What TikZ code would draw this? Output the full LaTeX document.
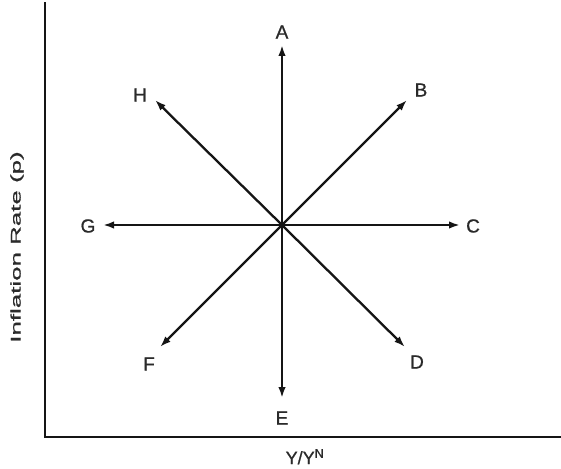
\documentclass[tikz,border=0pt]{standalone}
\usepackage{fontspec}
\setmainfont{Liberation Sans}[BoldFont=Liberation Sans,BoldFeatures={FakeBold=0.8}]
\usetikzlibrary{arrows.meta}
\definecolor{ink}{HTML}{151515}
\definecolor{txt}{HTML}{2A2A2A}
\begin{document}
\begin{tikzpicture}[x=1pt,y=-1pt,
  axis/.style={line width=2.8pt,draw=ink,line cap=rect},
  arr/.style={line width=2.3pt,draw=ink,-{Latex[length=11pt,width=7.5pt]}},
  lbl/.style={text=txt,font=\fontsize{19}{22}\selectfont\bfseries,inner sep=0pt}]
\useasboundingbox (0,0) rectangle (561,468);
% axes
\coordinate (top) at (45,3);
\coordinate (orig) at (45,437);
\coordinate (right) at (561,437);
\draw[axis] (top) -- (orig) -- (right);
% axis labels
\node[rotate=90,text=txt,inner sep=0pt] (ylab) at (17,247) {\scalebox{1.85}[1]{\fontsize{14}{16}\selectfont\bfseries Inflation Rate (p)}};
\node[text=txt,inner sep=0pt,anchor=north,font=\fontsize{18}{20}\selectfont\bfseries] (xlab) at (305,449) {Y/Y\textsuperscript{N}};
% centre and tips
\coordinate (O) at (282,225);
\coordinate (tA) at (282,45);
\coordinate (tB) at (407,100);
\coordinate (tC) at (460,225);
\coordinate (tD) at (405,347);
\coordinate (tE) at (282,398);
\coordinate (tF) at (160,347);
\coordinate (tG) at (103,225);
\coordinate (tH) at (155,100);
\foreach \t in {A,B,C,D,E,F,G,H} \draw[arr] (O) -- (t\t);
% labels
\node[lbl] (A) at (282,32) {A};
\node[lbl] (B) at (421,90) {B};
\node[lbl] (C) at (473,226) {C};
\node[lbl] (D) at (417,362) {D};
\node[lbl] (E) at (282,418) {E};
\node[lbl] (F) at (149,364) {F};
\node[lbl] (G) at (88,226) {G};
\node[lbl] (H) at (140,95) {H};
\end{tikzpicture}
\end{document}
